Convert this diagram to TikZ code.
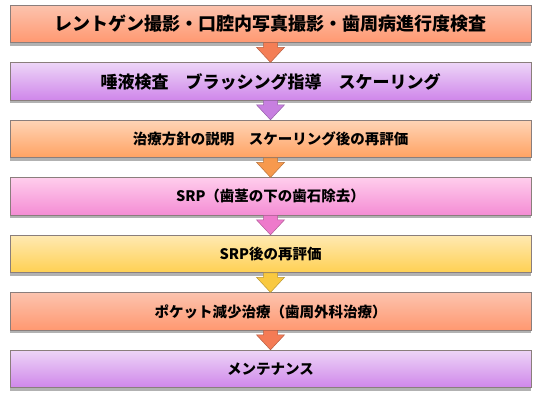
\documentclass[tikz,border=0pt]{standalone}
\usepackage{fontspec}
\newfontfamily\jp{Noto Sans CJK JP}
\usetikzlibrary{positioning,shadows}

\definecolor{boxline}{HTML}{8A7E7C}
\definecolor{salmonT}{HTML}{FCC3AE} \definecolor{salmonB}{HTML}{FF9870}
\definecolor{lilacT}{HTML}{EDD5F7}  \definecolor{lilacB}{HTML}{CF86EA}
\definecolor{peachT}{HTML}{FFD4B6}  \definecolor{peachB}{HTML}{FFA262}
\definecolor{pinkT}{HTML}{FFCDEC}   \definecolor{pinkB}{HTML}{F48CD4}
\definecolor{goldT}{HTML}{FFE9B2}   \definecolor{goldB}{HTML}{FFD052}
\definecolor{arrA}{HTML}{F47E56} \definecolor{arrB}{HTML}{C77FE0}
\definecolor{arrC}{HTML}{F7994D} \definecolor{arrD}{HTML}{EE7ACB}
\definecolor{arrE}{HTML}{F9C940} \definecolor{arrF}{HTML}{F47B55}

\tikzset{
  stepbox/.style={draw=boxline, line width=0.8pt, minimum width=521pt,
    minimum height=37.5pt, inner sep=0pt, text=black,
    font=\jp\bfseries\fontsize{14.5pt}{17pt}\selectfont,
    drop shadow={shadow xshift=0pt, shadow yshift=-3pt, opacity=.3, fill=black}},
  bigtext/.style={font=\jp\bfseries\fontsize{#1}{20pt}\selectfont},
  arrowbody/.style={fill=#1, draw=#1!75!black, line width=.5pt},
  node distance=19.2pt
}

\begin{document}
\begin{tikzpicture}
  \useasboundingbox (0,0) rectangle (540pt,-404pt);

  \node[stepbox, bigtext=18pt, top color=salmonT, bottom color=salmonB] (a) at (270.5pt,-24pt)
    {レントゲン撮影・口腔内写真撮影・歯周病進行度検査};
  \node[stepbox, bigtext=17pt, top color=lilacT, bottom color=lilacB, below=of a] (b)
    {唾液検査　ブラッシング指導　スケーリング};
  \node[stepbox, top color=peachT, bottom color=peachB, below=of b] (c)
    {治療方針の説明　スケーリング後の再評価};
  \node[stepbox, top color=pinkT, bottom color=pinkB, below=of c] (d)
    {SRP（歯茎の下の歯石除去）};
  \node[stepbox, top color=goldT, bottom color=goldB, below=of d] (e)
    {SRP後の再評価};
  \node[stepbox, top color=salmonT, bottom color=salmonB, below=of e] (f)
    {ポケット減少治療（歯周外科治療）};
  \node[stepbox, top color=lilacT, bottom color=lilacB, below=of f] (g)
    {メンテナンス};

  % block arrows between the steps
  \foreach \u/\v/\c in {a/b/arrA, b/c/arrB, c/d/arrC, d/e/arrD, e/f/arrE, f/g/arrF}
    \filldraw[arrowbody=\c] ([xshift=-7pt,yshift=.4pt]\u.south)
      -- ([xshift=-7pt,yshift=15pt]\v.north) -- ([xshift=-14pt,yshift=15pt]\v.north)
      -- (\v.north)
      -- ([xshift=14pt,yshift=15pt]\v.north) -- ([xshift=7pt,yshift=15pt]\v.north)
      -- ([xshift=7pt,yshift=.4pt]\u.south) -- cycle;
\end{tikzpicture}
\end{document}
